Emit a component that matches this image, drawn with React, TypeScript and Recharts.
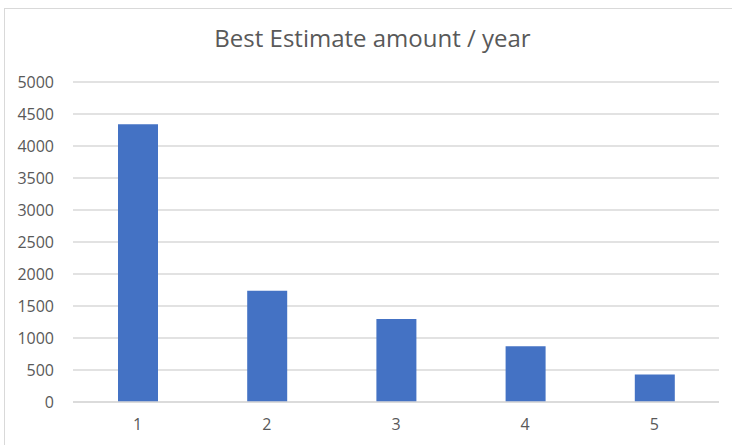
import { BarChart, Bar, XAxis, YAxis, CartesianGrid } from 'recharts';

const years = ['1', '2', '3', '4', '5'];
const amounts = [4340, 1740, 1295, 870, 430];
const yTicks = [0, 500, 1000, 1500, 2000, 2500, 3000, 3500, 4000, 4500, 5000];

const data = years.map((year, i) => ({ year, amount: amounts[i] }));

const textColor = '#595959';
const gridColor = '#d9d9d9';
const font = '"Open Sans", sans-serif';

export default function App() {
  return (
    <div style={{ position: 'absolute', left: 0, top: 0, width: 732, height: 445, background: '#fff' }}>
      {/* frame: only top and left edges show */}
      <div
        style={{
          position: 'absolute',
          left: 4,
          top: 8,
          width: 740,
          height: 450,
          borderTop: `1px solid ${gridColor}`,
          borderLeft: `1px solid ${gridColor}`,
        }}
      />
      <div
        style={{
          position: 'absolute',
          left: 0,
          width: 745,
          top: 22,
          textAlign: 'center',
          fontFamily: font,
          fontSize: 24,
          color: textColor,
          lineHeight: '32px',
        }}
      >
        Best Estimate amount / year
      </div>
      <div style={{ position: 'absolute', left: 0, top: 0 }}>
        <BarChart
          width={732}
          height={445}
          data={data}
          margin={{ top: 82, right: 13, bottom: 13, left: 0 }}
          barCategoryGap={0}
        >
          <CartesianGrid vertical={false} stroke={gridColor} strokeWidth={1.3} />
          <XAxis
            dataKey="year"
            height={30}
            axisLine={{ stroke: gridColor, strokeWidth: 1.3 }}
            tickLine={false}
            tickSize={0}
            tickMargin={17}
            tick={{ fill: textColor, fontSize: 16, fontFamily: font }}
          />
          <YAxis
            width={73}
            domain={[0, 5000]}
            ticks={yTicks}
            interval={0}
            axisLine={false}
            tickLine={false}
            tickSize={0}
            tickMargin={19}
            tick={{ fill: textColor, fontSize: 16, fontFamily: font }}
          />
          <Bar dataKey="amount" fill="#4472C4" barSize={40} isAnimationActive={false} />
        </BarChart>
      </div>
    </div>
  );
}
